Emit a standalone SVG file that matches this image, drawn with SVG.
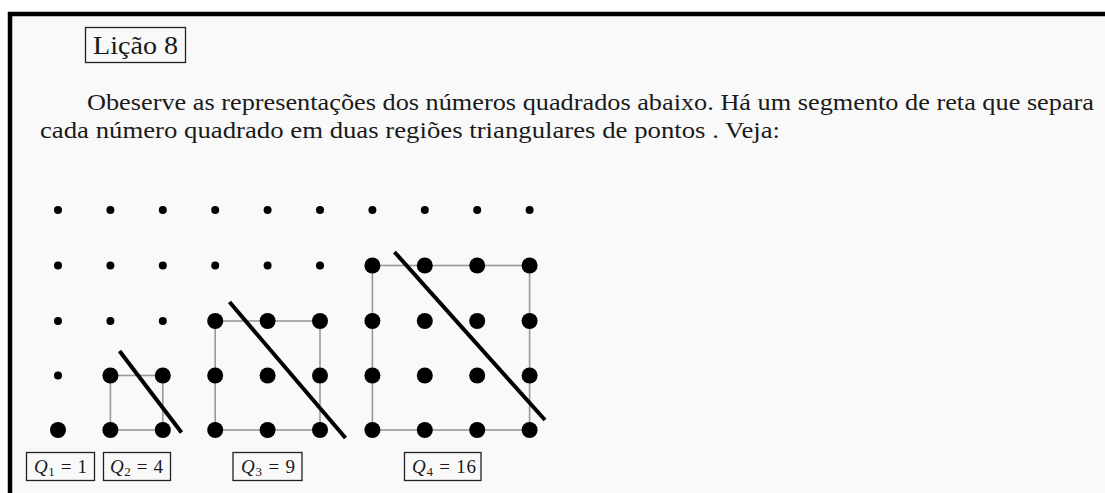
<svg xmlns="http://www.w3.org/2000/svg" width="1105" height="493" viewBox="0 0 1105 493">
<style>
.txt{font-family:"Liberation Serif","DejaVu Serif",serif;fill:#1a1a1a}
.para{font-size:23px}
.title{font-size:26px}
.lab{font-size:19px}
.box{fill:none;stroke:#222;stroke-width:1.3}
.sq{fill:none;stroke:#999;stroke-width:1.6}
.cut{stroke:#000;stroke-width:4;stroke-linecap:butt}
.sd{fill:#000}
.bd{fill:#000}
</style>
<defs>
<circle id="s" r="4"/>
<circle id="b" r="8"/>
</defs>
<rect x="0" y="0" width="1105" height="493" fill="#fff"/>
<rect x="10" y="14" width="1095" height="479" fill="#f9f9f9"/>
<g id="border">
<line x1="8" y1="14" x2="1105" y2="14" stroke="#000" stroke-width="4.5"/>
<line x1="10" y1="12" x2="10" y2="493" stroke="#000" stroke-width="4.5"/>
</g>
<g id="title">
<rect class="box" x="85.5" y="27.5" width="100" height="35"/>
<text class="txt title" x="93" y="53.5" textLength="85" lengthAdjust="spacingAndGlyphs">Lição 8</text>
</g>
<g id="paragraph">
<text class="txt para" x="87" y="110" textLength="1007" lengthAdjust="spacingAndGlyphs">Obeserve as representações dos números quadrados abaixo. Há um segmento de reta que separa</text>
<text class="txt para" x="40" y="138" textLength="740" lengthAdjust="spacingAndGlyphs">cada número quadrado em duas regiões triangulares de pontos . Veja:</text>
</g>
<g id="Q1">
<g class="sd">
<use href="#s" x="58" y="210"/><use href="#s" x="58" y="265.5"/><use href="#s" x="58" y="321"/><use href="#s" x="58" y="375.5"/>
</g>
<use class="bd" href="#b" x="58" y="430"/>
</g>
<g id="Q2">
<rect class="sq" x="110.4" y="375.5" width="52.4" height="54.5"/>
<g class="sd">
<use href="#s" x="110.4" y="210"/><use href="#s" x="110.4" y="265.5"/><use href="#s" x="110.4" y="321"/>
<use href="#s" x="162.8" y="210"/><use href="#s" x="162.8" y="265.5"/><use href="#s" x="162.8" y="321"/>
</g>
<g class="bd">
<use href="#b" x="110.4" y="375.5"/><use href="#b" x="162.8" y="375.5"/>
<use href="#b" x="110.4" y="430"/><use href="#b" x="162.8" y="430"/>
</g>
</g>
<g id="Q3">
<rect class="sq" x="215.2" y="321" width="104.8" height="109"/>
<g class="sd">
<use href="#s" x="215.2" y="210"/><use href="#s" x="215.2" y="265.5"/>
<use href="#s" x="267.6" y="210"/><use href="#s" x="267.6" y="265.5"/>
<use href="#s" x="320" y="210"/><use href="#s" x="320" y="265.5"/>
</g>
<g class="bd">
<use href="#b" x="215.2" y="321"/><use href="#b" x="267.6" y="321"/><use href="#b" x="320" y="321"/>
<use href="#b" x="215.2" y="375.5"/><use href="#b" x="267.6" y="375.5"/><use href="#b" x="320" y="375.5"/>
<use href="#b" x="215.2" y="430"/><use href="#b" x="267.6" y="430"/><use href="#b" x="320" y="430"/>
</g>
</g>
<g id="Q4">
<rect class="sq" x="372.4" y="265.5" width="157.2" height="164.5"/>
<g class="sd">
<use href="#s" x="372.4" y="210"/><use href="#s" x="424.8" y="210"/><use href="#s" x="477.2" y="210"/><use href="#s" x="529.6" y="210"/>
</g>
<g class="bd">
<use href="#b" x="372.4" y="265.5"/><use href="#b" x="424.8" y="265.5"/><use href="#b" x="477.2" y="265.5"/><use href="#b" x="529.6" y="265.5"/>
<use href="#b" x="372.4" y="321"/><use href="#b" x="424.8" y="321"/><use href="#b" x="477.2" y="321"/><use href="#b" x="529.6" y="321"/>
<use href="#b" x="372.4" y="375.5"/><use href="#b" x="424.8" y="375.5"/><use href="#b" x="477.2" y="375.5"/><use href="#b" x="529.6" y="375.5"/>
<use href="#b" x="372.4" y="430"/><use href="#b" x="424.8" y="430"/><use href="#b" x="477.2" y="430"/><use href="#b" x="529.6" y="430"/>
</g>
</g>
<g id="connectors">
<line class="cut" x1="119.5" y1="351" x2="181.5" y2="432.5"/>
<line class="cut" x1="229.5" y1="302" x2="345.5" y2="438"/>
<line class="cut" x1="394.5" y1="252" x2="545" y2="420"/>
</g>
<g id="labels">
<g id="L1"><rect class="box" x="26.5" y="452.5" width="68" height="28"/>
<text class="txt lab" x="34" y="472.5" textLength="53" lengthAdjust="spacing"><tspan font-style="italic">Q</tspan><tspan font-size="13" dy="3">1</tspan><tspan dy="-3"> = 1</tspan></text></g>
<g id="L2"><rect class="box" x="103.5" y="452.5" width="67" height="28"/>
<text class="txt lab" x="110" y="472.5" textLength="53" lengthAdjust="spacing"><tspan font-style="italic">Q</tspan><tspan font-size="13" dy="3">2</tspan><tspan dy="-3"> = 4</tspan></text></g>
<g id="L3"><rect class="box" x="233" y="452.5" width="69" height="28"/>
<text class="txt lab" x="241" y="472.5" textLength="54" lengthAdjust="spacing"><tspan font-style="italic">Q</tspan><tspan font-size="13" dy="3">3</tspan><tspan dy="-3"> = 9</tspan></text></g>
<g id="L4"><rect class="box" x="404.5" y="452.5" width="76.5" height="28"/>
<text class="txt lab" x="412" y="472.5" textLength="64" lengthAdjust="spacing"><tspan font-style="italic">Q</tspan><tspan font-size="13" dy="3">4</tspan><tspan dy="-3"> = 16</tspan></text></g>
</g>
</svg>
